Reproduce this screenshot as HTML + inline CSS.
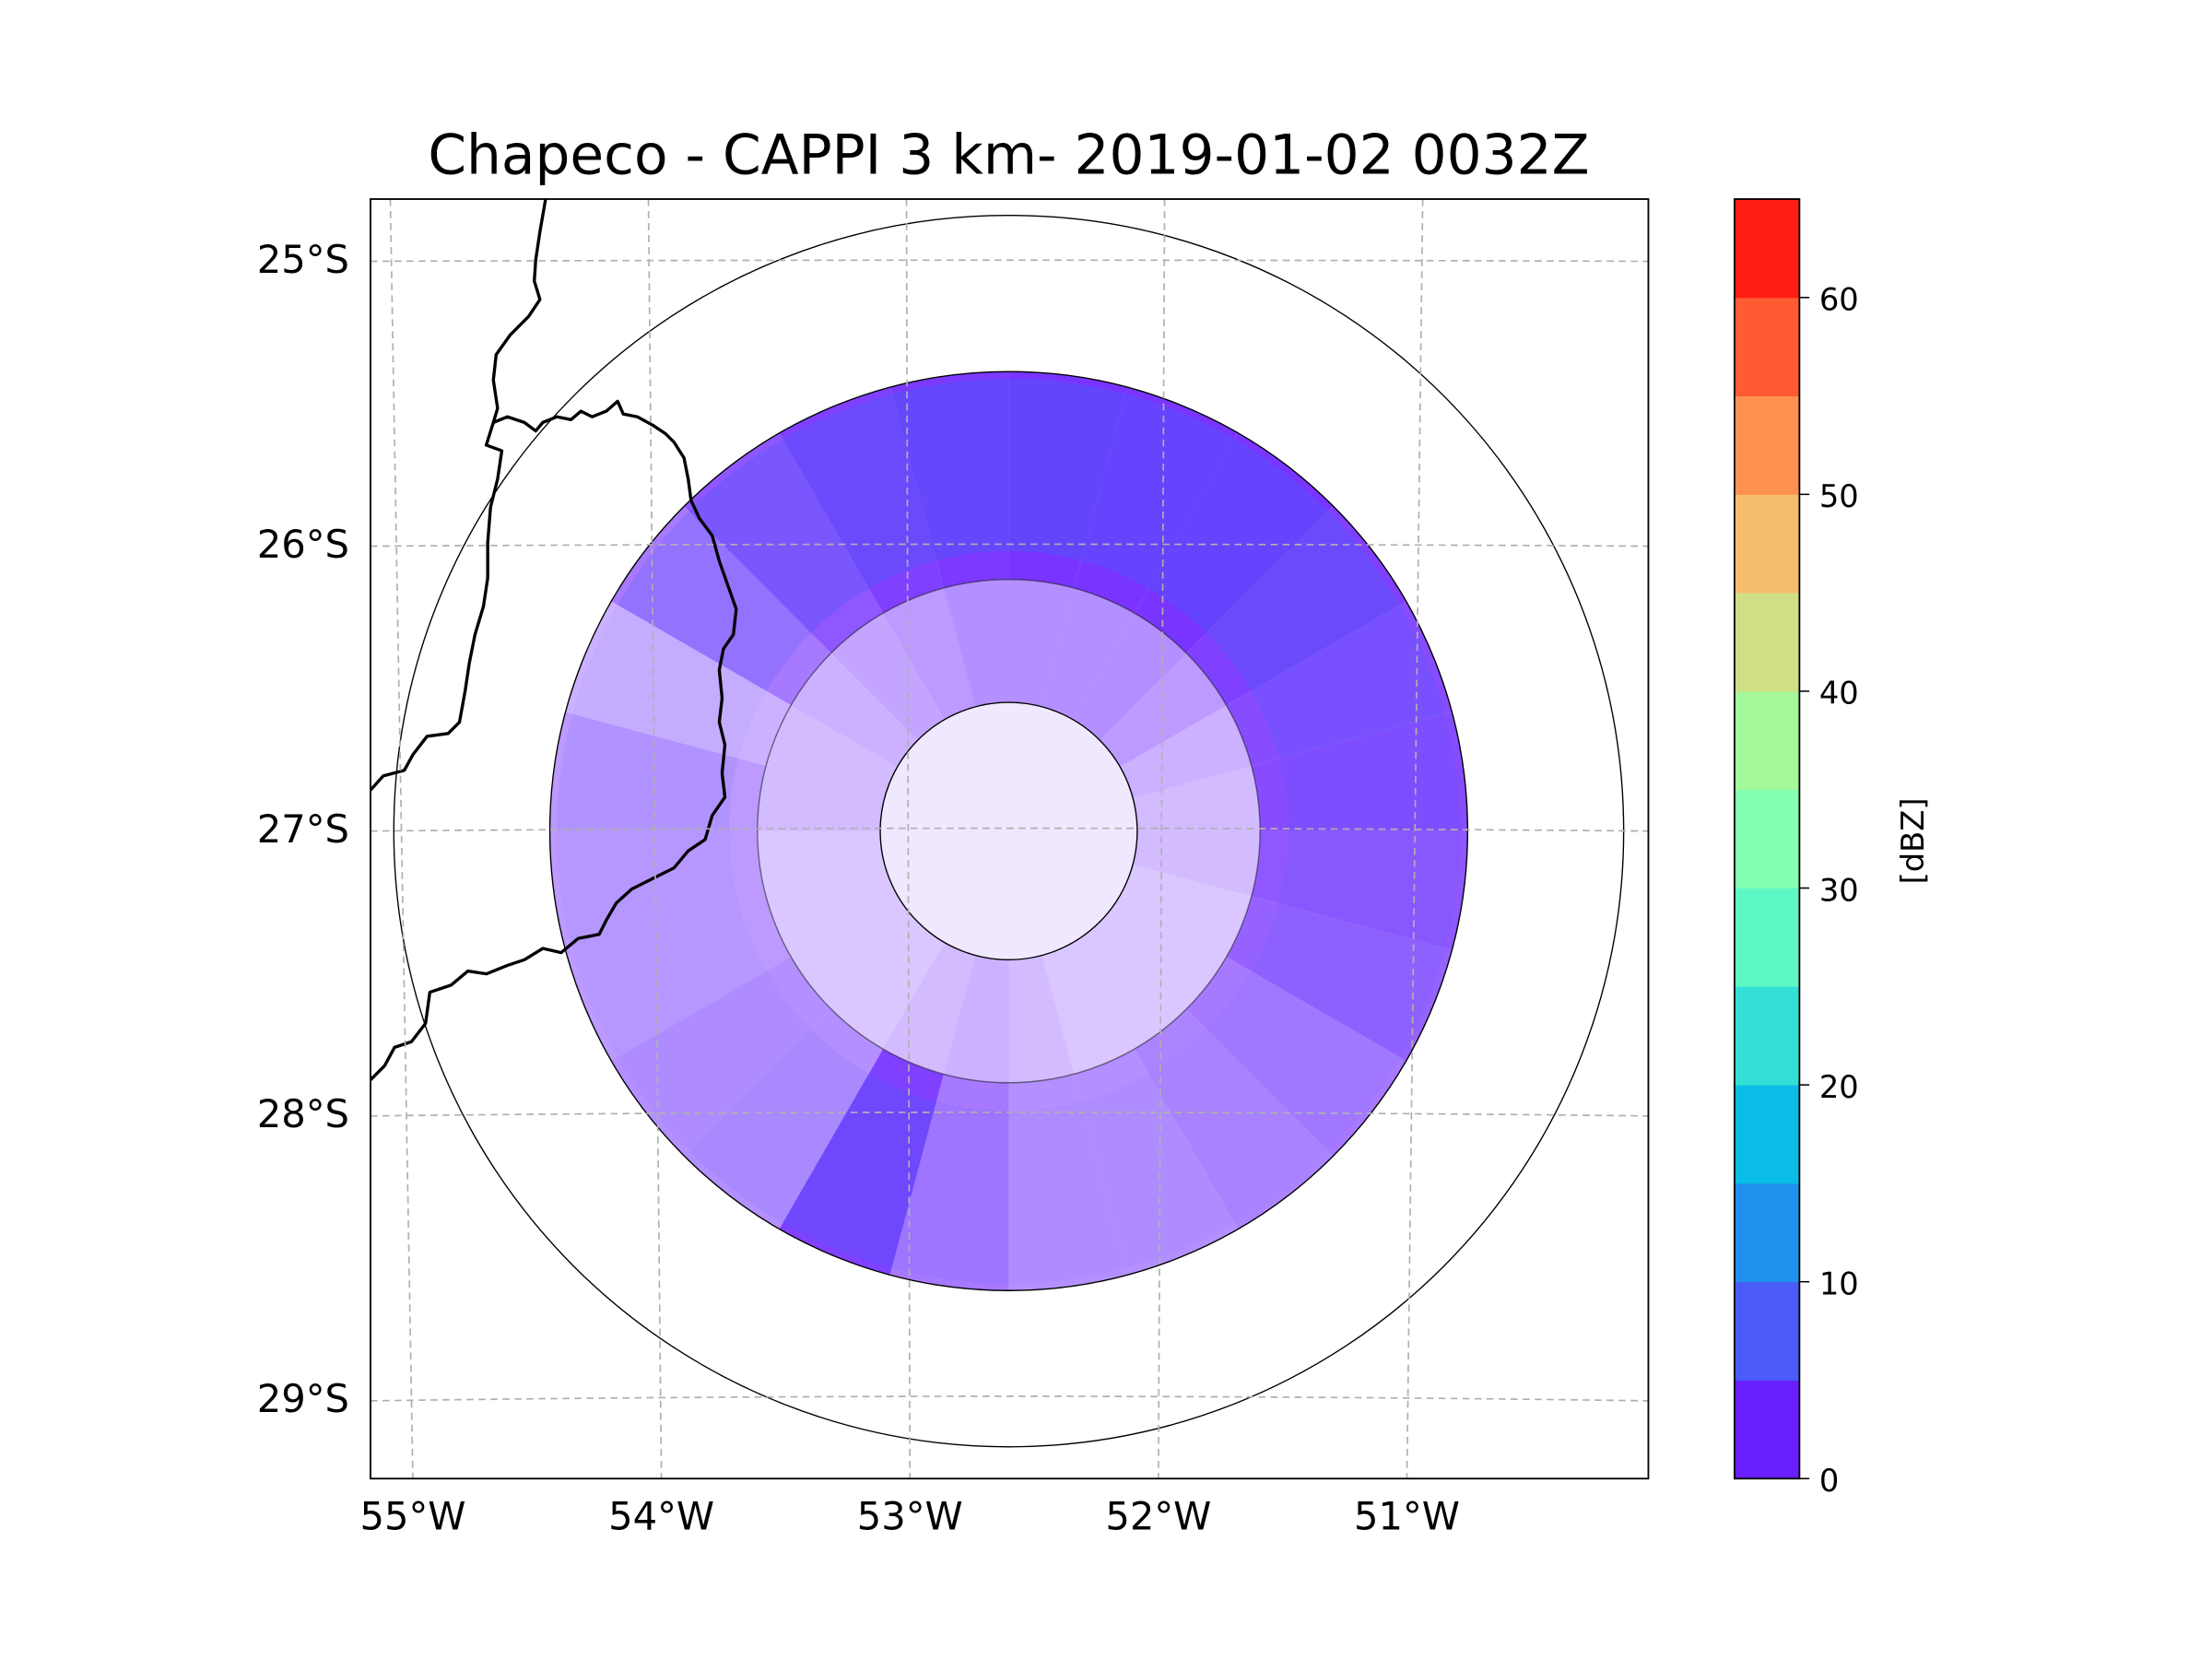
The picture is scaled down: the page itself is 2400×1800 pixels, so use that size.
<!DOCTYPE html>
<html><head><meta charset="utf-8"><style>
html,body{margin:0;padding:0;background:#fff}
svg{display:block}
text{font-family:"DejaVu Sans","Liberation Sans",sans-serif;fill:#000}
</style></head><body>
<svg id="fig" width="2400" height="1800" viewBox="0 0 2400 1800" xmlns="http://www.w3.org/2000/svg">
<g transform="translate(402,216) scale(1.532,1.534) translate(-263,-142)">
<text x="715" y="124" font-size="39" text-anchor="middle">Chapeco - CAPPI 3 km- 2019-01-02 0032Z</text>
<defs><clipPath id="axclip"><rect x="263" y="142" width="905" height="905"/></clipPath></defs>
<g id="plot" clip-path="url(#axclip)">
<g id="radar"></g>
<g id="border" fill="none" stroke="#000" stroke-width="2.2" stroke-linejoin="round">
<path d="M387,142 L383,165 L380,185 L379,200 L383,213 L375,225 L362,238 L352,252 L350,270 L353,290 L350,300 L345,316 L356,320 L353,340 L348,360 L346,385 L346,410 L343,430 L337,450 L333,470 L330,490 L326,512 L318,520 L303,522 L293,535 L287,546 L272,550 L263,560"/>
<path d="M350,300 L360,296 L372,300 L380,306 L385,300 L395,296 L405,298 L412,292 L420,296 L430,292 L438,285 L442,294 L452,296 L463,302 L472,308 L478,314 L485,325 L488,340 L490,355 L496,368 L505,380 L510,398 L516,415 L522,432 L520,450 L513,460 L510,475 L512,495 L510,512 L514,528 L512,548 L514,565 L505,578 L500,595 L488,603 L478,615 L462,623 L448,630 L437,640 L430,652 L425,662 L410,665 L398,675 L385,672 L372,680 L360,684 L345,690 L332,688 L320,698 L305,703 L302,725 L292,738 L280,742 L273,755 L263,765"/>
</g>
<g id="rings" fill="none" stroke="#000" stroke-width="0.9"></g>
<g id="grid" fill="none" stroke="#b0b0b0" stroke-width="1.1" stroke-dasharray="5,3.5"></g>
</g>
<rect x="263" y="142" width="905" height="905" fill="none" stroke="#000" stroke-width="1.2"/>
<g id="ylabels"></g>
<g id="xlabels"></g>
<g id="cbar"></g>
<text transform="translate(1363,596) rotate(-90)" font-size="22" text-anchor="middle">[dBZ]</text>
</g>
</svg>
<script>
const NS="http://www.w3.org/2000/svg";
// colorbar data
const levels=[0,5,10,15,20,25,30,35,40,45,50,55,60,65];
const levelColors=["#6a1fff","#4a5bf7","#2090ee","#0abde6","#33e0d6","#5ef8c5","#82ffb1","#a4f899","#d0df86","#f5be6c","#fe9150","#fe5b33","#ff1d14"];
const cbTicks=[0,10,20,30,40,50,60];
// latitude / longitude grid
const lats=[25,26,27,28,29];
const latLabels=["25°S","26°S","27°S","28°S","29°S"];
const lons=[55,54,53,52,51];
const lonLabels=["55°W","54°W","53°W","52°W","51°W"];
// range rings (km)
const ringKm=[70,250,335];
// reflectivity coverage per 15° sector (from east, counter-clockwise)
const sectorAngles=[0,15,30,45,60,75,90,105,120,135,150,165,180,195,210,225,240,255,270,285,300,315,330,345];
const outerDensity=[0.8,0.8,0.85,0.9,0.9,0.9,0.88,0.85,0.75,0.6,0.35,0.45,0.45,0.45,0.5,0.5,0.85,0.6,0.5,0.5,0.55,0.6,0.7,0.75];
const outerBlue=[0.15,0.25,0.4,0.4,0.4,0.45,0.45,0.4,0.3,0.2,0.05,0.1,0.05,0.05,0.05,0.1,0.3,0.1,0.05,0.05,0.05,0.05,0.1,0.1];
const midDensity=[0.3,0.35,0.45,0.5,0.5,0.5,0.5,0.45,0.4,0.35,0.3,0.3,0.25,0.25,0.25,0.25,0.3,0.35,0.3,0.25,0.25,0.25,0.25,0.3];
const innerDensity=0.1;

// axis functions (display coords)
const cx=715, cy=589, pxPerKm=325/250;
const latY=v=>185+(v-25)*201.5;
const lonXbot=v=>293+(55-v)*176;
const lonXtop=v=>277+(55-v)*182.8;
const cbY=v=>1047-(v-0)*(905/65);
const rPx=km=>km*pxPerKm;

function el(tag,attrs,parent){const e=document.createElementNS(NS,tag);for(const k in attrs)e.setAttribute(k,attrs[k]);parent.appendChild(e);return e;}
function sector(r0,r1,a0,a1){
  const p=(r,a)=>[cx+r*Math.cos(a*Math.PI/180),cy-r*Math.sin(a*Math.PI/180)];
  const [x1,y1]=p(r1,a0),[x2,y2]=p(r1,a1),[x3,y3]=p(r0,a1),[x4,y4]=p(r0,a0);
  return `M${x1},${y1} A${r1},${r1} 0 0 0 ${x2},${y2} L${x3},${y3} A${r0},${r0} 0 0 1 ${x4},${y4} Z`;
}
const radar=document.getElementById('radar');
const rOut=rPx(250), rMid=rPx(137), rIn=rPx(70);
sectorAngles.forEach((a,i)=>{
  const p=el('path',{d:sector(rMid,rOut,a,a+15),fill:'#6a1fff','fill-opacity':outerDensity[i]},radar);
  
  
  const b=el('path',{d:sector(rMid+20,rOut-5,a,a+15),fill:'#4a5bf7','fill-opacity':outerBlue[i]},radar);
  
  
  const m=el('path',{d:sector(rIn,rMid,a,a+15),fill:'#6a1fff','fill-opacity':midDensity[i]},radar);
  
  
});
const ic=el('circle',{cx:cx,cy:cy,r:rIn,fill:'#6a1fff','fill-opacity':innerDensity},radar);



const rings=document.getElementById('rings');
ringKm.forEach(k=>{const c=el('circle',{cx:cx,cy:cy,r:rPx(k)},rings);
  
  });
const c2=el('circle',{cx:cx,cy:cy,r:178,'stroke-opacity':0.5},rings);



const grid=document.getElementById('grid');
lats.forEach((v,i)=>{const y=latY(v);const bow=(v-27)*-1.2-3;
  const g=el('path',{d:`M263,${y+1} Q715,${y+bow} 1168,${y+1}`},grid);
  
  
  const t=el('text',{x:248,y:y+9,'font-size':27.2,'text-anchor':'end'},document.getElementById('ylabels'));
  t.textContent=latLabels[i];
  
  });
lons.forEach((v,i)=>{
  const g=el('line',{x1:lonXtop(v),y1:142,x2:lonXbot(v),y2:1047},grid);
  
  
  const t=el('text',{x:lonXbot(v),y:1083,'font-size':27.2,'text-anchor':'middle'},document.getElementById('xlabels'));
  t.textContent=lonLabels[i];
  
  });

const cb=document.getElementById('cbar');
levelColors.forEach((c,i)=>{const y1=cbY(levels[i+1]),y0=cbY(levels[i]);
  const r=el('rect',{x:1229,y:y1,width:46,height:y0-y1+0.3,fill:c},cb);
  
  });
const fr=el('rect',{x:1229,y:142,width:46,height:905,fill:'none',stroke:'#000','stroke-width':1.2},cb);


cbTicks.forEach(v=>{const y=cbY(v);
  const l=el('line',{x1:1275,y1:y,x2:1282,y2:y,stroke:'#000','stroke-width':1},cb);
  
  
  const t=el('text',{x:1289,y:y+9,'font-size':22},cb);
  t.textContent=String(v);
  
  });
</script>
</body></html>
